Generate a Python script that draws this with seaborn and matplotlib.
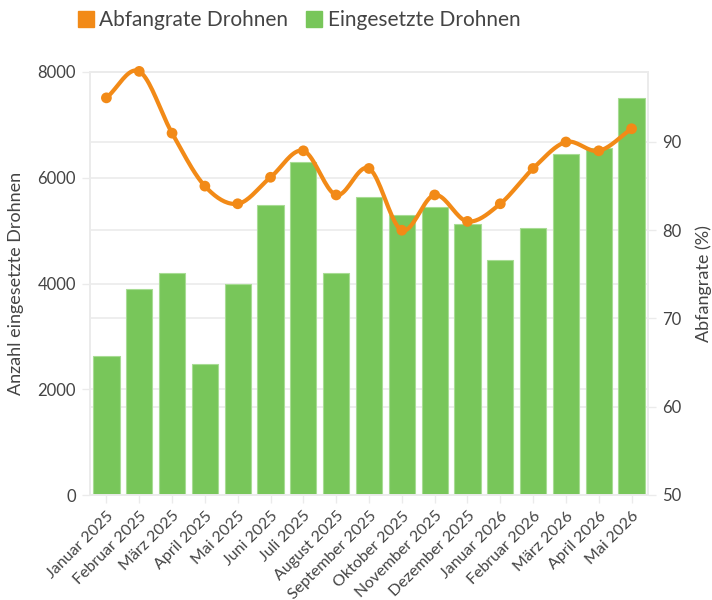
import matplotlib
matplotlib.use("Agg")
import matplotlib.pyplot as plt
import matplotlib.transforms as mtransforms
from matplotlib.lines import Line2D
import numpy as np
import pandas as pd
import seaborn as sns

# Daten
monate = ["Januar 2025", "Februar 2025", "März 2025", "April 2025", "Mai 2025",
          "Juni 2025", "Juli 2025", "August 2025", "September 2025", "Oktober 2025",
          "November 2025", "Dezember 2025", "Januar 2026", "Februar 2026",
          "März 2026", "April 2026", "Mai 2026"]
eingesetzt = [2630, 3900, 4200, 2470, 4000, 5480, 6300, 4200, 5640, 5300,
              5450, 5130, 4450, 5050, 6450, 6560, 7500]
abfangrate = [95, 98, 91, 85, 83, 86, 89, 84, 87, 80, 84, 81, 83, 87, 90, 89, 91.5]

left_ticks = [0, 2000, 4000, 6000, 8000]
right_ticks = [50, 60, 70, 80, 90]

GREEN = "#78c65a"
ORANGE = "#f28a17"
GRID = "#ebebeb"
TEXT = "#444444"

sns.set_theme(style="white")
plt.rcParams["font.family"] = ["Lato", "DejaVu Sans"]
plt.rcParams["text.color"] = TEXT
plt.rcParams["axes.labelcolor"] = TEXT
plt.rcParams["xtick.color"] = TEXT
plt.rcParams["ytick.color"] = TEXT


def catmull_rom(y, steps=20):
    """Smooth curve through points (display only, like a spline line shape)."""
    y = np.asarray(y, dtype=float)
    x = np.arange(len(y), dtype=float)
    p = np.concatenate([[2 * y[0] - y[1]], y, [2 * y[-1] - y[-2]]])
    xs, ys = [], []
    for i in range(len(y) - 1):
        t = np.linspace(0, 1, steps, endpoint=False)
        p0, p1, p2, p3 = p[i], p[i + 1], p[i + 2], p[i + 3]
        seg = 0.5 * ((2 * p1) + (-p0 + p2) * t + (2 * p0 - 5 * p1 + 4 * p2 - p3) * t ** 2
                     + (-p0 + 3 * p1 - 3 * p2 + p3) * t ** 3)
        xs.append(x[i] + t)
        ys.append(seg)
    xs.append([x[-1]])
    ys.append([y[-1]])
    return np.concatenate(xs), np.concatenate(ys)


df = pd.DataFrame({"Monat": monate, "Eingesetzt": eingesetzt, "Rate": abfangrate})

fig = plt.figure(figsize=(7.12, 6), dpi=100)
ax = fig.add_axes([90 / 712, 1 - 495 / 600, (648 - 90) / 712, (495 - 72) / 600])
ax2 = ax.twinx()

sns.barplot(data=df, x="Monat", y="Eingesetzt", color=GREEN, width=0.8,
            edgecolor="#a8dc94", linewidth=0.8, saturation=1, ax=ax, zorder=2)

ax.set_xlim(-0.5, len(monate) - 0.5)
ax.set_ylim(0, 8000)
ax2.set_ylim(50, 97.93)

# gridlines for both axes behind the bars
for v in left_ticks:
    ax.axhline(v, color=GRID, lw=1.2, zorder=0)
blend = mtransforms.blended_transform_factory(ax.transAxes, ax2.transData)
for v in right_ticks:
    ax.plot([0, 1], [v, v], color=GRID, lw=1.2, transform=blend, zorder=0, clip_on=False)

# smooth line + markers
xs, ys = catmull_rom(abfangrate)
ax2.plot(xs, ys, color=ORANGE, lw=3, zorder=3, solid_capstyle="round", clip_on=False)
sns.scatterplot(x=np.arange(len(monate)), y=df["Rate"], color=ORANGE, s=60,
                edgecolor="none", ax=ax2, zorder=4, clip_on=False)

ax.set_yticks(left_ticks)
ax2.set_yticks(right_ticks)
ax.set_xticks(range(len(monate)))
ax.set_xticklabels(monate, rotation=45, ha="right", rotation_mode="anchor", fontsize=11.5)
ax.tick_params(axis="y", labelsize=12, length=6, width=1, color=GRID, pad=4, left=True)
ax.tick_params(axis="x", length=6, width=1, color=GRID, pad=4, bottom=True)
ax2.tick_params(axis="y", labelsize=12, length=6, width=1, color=GRID, pad=4, right=True)

ax.set_xlabel("")
ax.set_ylabel("Anzahl eingesetzte Drohnen", fontsize=13, labelpad=10)
ax2.set_ylabel("Abfangrate (%)", fontsize=13, labelpad=10)
ax2.set_xlabel("")

for a in (ax, ax2):
    for s in a.spines.values():
        s.set_color(GRID)
        s.set_linewidth(1.2)

handles = [
    Line2D([0], [0], marker="s", color="none", markerfacecolor=ORANGE,
           markeredgecolor=ORANGE, markersize=12, label="Abfangrate Drohnen"),
    Line2D([0], [0], marker="s", color="none", markerfacecolor=GREEN,
           markeredgecolor=GREEN, markersize=12, label="Eingesetzte Drohnen"),
]
fig.legend(handles=handles, loc="center left", bbox_to_anchor=(70 / 712, 1 - 20 / 600),
           ncol=2, frameon=False, fontsize=15, handlelength=0.7, handletextpad=0.3,
           columnspacing=0.9, borderaxespad=0)

fig.savefig("out.png", dpi=100)
